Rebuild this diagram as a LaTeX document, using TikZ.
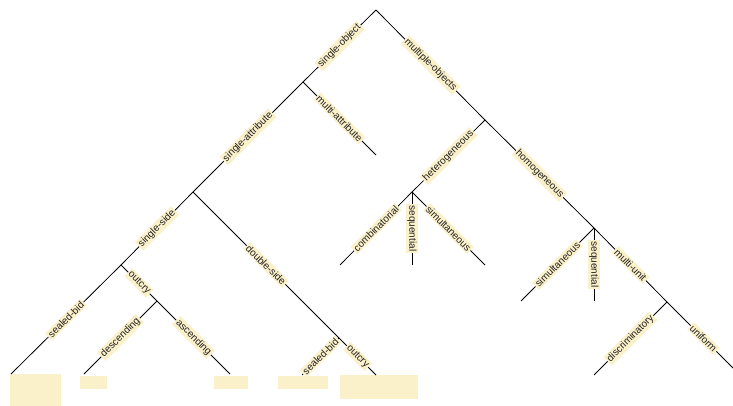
\documentclass[tikz,border=0pt]{standalone}
\usepackage{fontspec}
\setmainfont{Liberation Sans}
\definecolor{lab}{RGB}{250,240,202}
\definecolor{txt}{RGB}{34,34,34}
\begin{document}
\begin{tikzpicture}[x=1pt,y=-1pt,
 edge/.style={draw=black, line width=0.8pt},
 elab/.style={fill=lab, text=txt, font=\fontsize{10}{12}\selectfont, inner xsep=1.5pt, inner ysep=1.2pt, midway},
 up/.style={elab, rotate=45},
 dn/.style={elab, rotate=-45},
 vt/.style={elab, rotate=-90},
 leafbox/.style={fill=lab, draw=none, inner sep=0pt, anchor=north west}]
\useasboundingbox (0,0) rectangle (733,406);
\clip (0,0) rectangle (733,406);
% leaf boxes
\node[leafbox, minimum width=51pt, minimum height=32pt] (b1) at (10,374) {};
\node[leafbox, minimum width=27pt, minimum height=13pt] (b2) at (80,376) {};
\node[leafbox, minimum width=34pt, minimum height=13pt] (b3) at (214,376) {};
\node[leafbox, minimum width=50pt, minimum height=13pt] (b4) at (278,376) {};
\node[leafbox, minimum width=78pt, minimum height=24pt] (b5) at (340,375) {};
% inner points
\coordinate (root) at (376,10);
\coordinate (so) at (303,82);
\coordinate (sa) at (193,192);
\coordinate (ss) at (121,265);
\coordinate (oc) at (157,301);
\coordinate (ds) at (339,338);
\coordinate (mo) at (485,120);
\coordinate (het) at (412,192);
\coordinate (hom) at (594,228);
\coordinate (mu) at (667,302);
% leaf ends
\coordinate (ma) at (376,155);
\coordinate (sb1) at (11,374);
\coordinate (desc) at (84,374);
\coordinate (asc) at (230,374);
\coordinate (sb2) at (302,375);
\coordinate (oc2) at (376,375);
\coordinate (comb) at (340,265);
\coordinate (seq1) at (412,265);
\coordinate (sim1) at (485,265);
\coordinate (sim2) at (521,301);
\coordinate (seq2) at (594,301);
\coordinate (disc) at (594,375);
\coordinate (unif) at (740,375);
% edges
\draw[edge] (root) -- node[up] {single-object} (so);
\draw[edge] (root) -- node[dn] {multiple-objects} (mo);
\draw[edge] (so) -- node[up] {single-attribute} (sa);
\draw[edge] (so) -- node[dn] {multi-attribute} (ma);
\draw[edge] (sa) -- node[up] {single-side} (ss);
\draw[edge] (sa) -- node[dn] {double-side} (ds);
\draw[edge] (ss) -- node[up] {sealed-bid} (sb1);
\draw[edge] (ss) -- node[dn] {outcry} (oc);
\draw[edge] (oc) -- node[up] {descending} (desc);
\draw[edge] (oc) -- node[dn] {ascending} (asc);
\draw[edge] (ds) -- node[up] {sealed-bid} (sb2);
\draw[edge] (ds) -- node[dn] {outcry} (oc2);
\draw[edge] (mo) -- node[up] {heterogeneous} (het);
\draw[edge] (mo) -- node[dn] {homogeneous} (hom);
\draw[edge] (het) -- node[up] {combinatorial} (comb);
\draw[edge] (het) -- node[vt] {sequential} (seq1);
\draw[edge] (het) -- node[dn] {simultaneous} (sim1);
\draw[edge] (hom) -- node[up] {simultaneous} (sim2);
\draw[edge] (hom) -- node[vt] {sequential} (seq2);
\draw[edge] (hom) -- node[dn] {multi-unit} (mu);
\draw[edge] (mu) -- node[up] {discriminatory} (disc);
\draw[edge] (mu) -- node[dn] {uniform} (unif);
\end{tikzpicture}
\end{document}
